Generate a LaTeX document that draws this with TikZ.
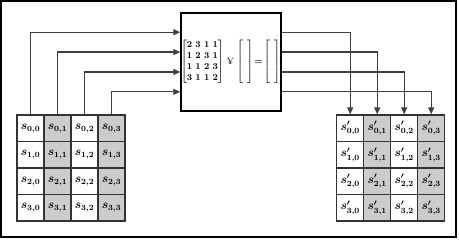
\documentclass[tikz,border=0pt]{standalone}
\usepackage{amsmath,amssymb}
\usepackage{xcolor}
\usetikzlibrary{shapes,arrows.meta,positioning,calc}

\begin{document}
\begin{tikzpicture}[
    x=1pt, y=-1pt,
    cellbox/.style={rectangle, draw=black!80, line width=1.3pt, minimum width=27pt, minimum height=26.5pt, inner sep=0pt, font=\large\boldmath},
    mixbox/.style={rectangle, draw=black, line width=1.4pt, minimum width=100pt, minimum height=98pt, inner sep=0pt},
    arr/.style={-{Triangle[width=6pt,length=7pt]}, line width=1.2pt, draw=black!75}
]
    \useasboundingbox (0,0) rectangle (459,243);
    \draw [line width=1.2pt] (1,1) rectangle (456,237);

    % state before and after
    \foreach \c/\f in {0/white,1/black!20,2/white,3/black!20}
      \foreach \r in {0,...,3} {
        \node [cellbox, fill=\f] (s-\r-\c) at (30.5+27*\c, 128.25+26.5*\r) {$s_{\r,\c}$};
        \node [cellbox, fill=\f] (t-\r-\c) at (350.2+27*\c, 128.25+26.5*\r) {$s'_{\r,\c}$};
      }

    % mix columns box
    \node [mixbox] (mix) at (231,62) {};
    \node [font=\small\boldmath, inner sep=0pt] (eq) at ([xshift=-0.5pt]mix.center) {\setlength{\arraycolsep}{1.6pt}%
      $\begin{bmatrix}\mathbf{2}&\mathbf{3}&\mathbf{1}&\mathbf{1}\\\mathbf{1}&\mathbf{2}&\mathbf{3}&\mathbf{1}\\
       \mathbf{1}&\mathbf{1}&\mathbf{2}&\mathbf{3}\\\mathbf{3}&\mathbf{1}&\mathbf{1}&\mathbf{2}\end{bmatrix}\mkern2mu\text{¥}\mkern2mu
       \begin{bmatrix}\hspace{4pt}\\ {}\\ {}\\ {}\end{bmatrix}\mkern-3mu=\mkern-3mu
       \begin{bmatrix}\hspace{4pt}\\ {}\\ {}\\ {}\end{bmatrix}$};

    \foreach \c in {0,...,3} {
      \pgfmathsetmacro\k{0.2*(\c+1)}
      \coordinate (in\c) at ($(mix.north west)!\k!(mix.south west)$);
      \coordinate (out\c) at ($(mix.north east)!\k!(mix.south east)$);
      \draw [arr] (s-0-\c.north) |- (in\c);
      \draw [arr] (out\c) -| (t-0-\c.north);
    }
\end{tikzpicture}
\end{document}
